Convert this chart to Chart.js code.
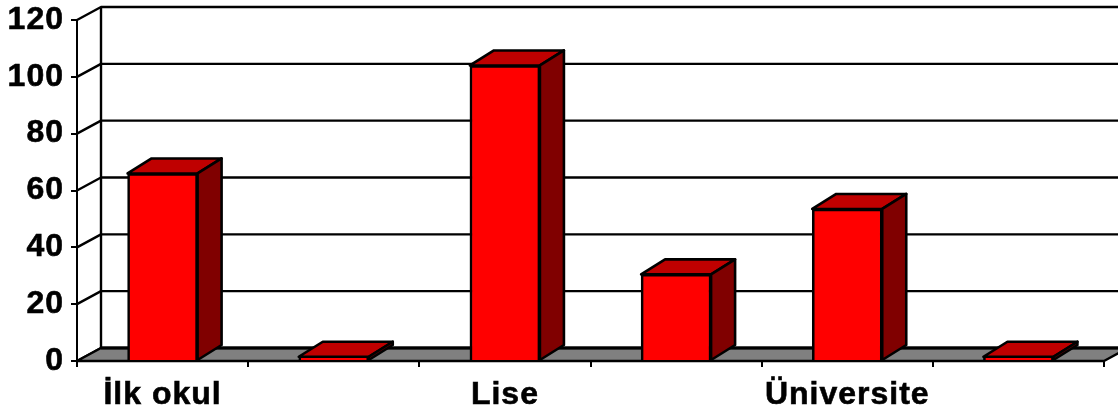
<!DOCTYPE html>
<html>
<head>
<meta charset="utf-8">
<style>
 body { margin: 0; background: #fff; }
 canvas { display: block; }
</style>
<script src="https://cdn.jsdelivr.net/npm/chart.js@4/dist/chart.umd.min.js"></script>
</head>
<body>
<canvas id="myChart" width="1118" height="410"></canvas>
<script>
var categories = ['İlk okul', '', 'Lise', '', 'Üniversite', ''];
var values = [66, 1.5, 104, 30.5, 53.5, 1.5];
var yTicks = [0, 20, 40, 60, 80, 100, 120];

// depth of the fake 3D box
var wallDx = 24, wallDy = -13;
var barDx = 24, barDy = -15;

function poly(ctx, pts, fill) {
  ctx.beginPath();
  ctx.moveTo(pts[0][0], pts[0][1]);
  for (var i = 1; i < pts.length; i++) {
    ctx.lineTo(pts[i][0], pts[i][1]);
  }
  ctx.closePath();
  ctx.fillStyle = fill;
  ctx.fill();
  ctx.stroke();
}

var box3d = {
  id: 'box3d',
  beforeDraw: function (chart) {
    // tick labels in the picture are wider than the plain font
    chart.ctx.letterSpacing = '1px';
  },
  beforeDatasetsDraw: function (chart) {
    var ctx = chart.ctx;
    var area = chart.chartArea;
    var y = chart.scales.y;
    ctx.save();
    ctx.strokeStyle = '#000';
    ctx.lineWidth = 2.4;
    ctx.lineJoin = 'round';

    // back wall: grid lines and the diagonals going to the front axis
    yTicks.forEach(function (t) {
      var py = y.getPixelForValue(t);
      ctx.beginPath();
      ctx.moveTo(area.left, py);
      ctx.lineTo(area.left + wallDx, py + wallDy);
      ctx.lineTo(area.right + wallDx, py + wallDy);
      ctx.stroke();
    });
    ctx.beginPath();
    ctx.moveTo(area.left + wallDx, area.top + wallDy);
    ctx.lineTo(area.left + wallDx, area.bottom + wallDy);
    ctx.stroke();

    // floor
    poly(ctx, [
      [area.left, area.bottom],
      [area.left + wallDx, area.bottom + wallDy],
      [area.right + wallDx, area.bottom + wallDy],
      [area.right, area.bottom]
    ], '#808080');
    ctx.lineWidth = 3;
    ctx.beginPath();
    ctx.moveTo(area.left + wallDx, area.bottom + wallDy);
    ctx.lineTo(area.right + wallDx, area.bottom + wallDy);
    ctx.stroke();

    // top and side of every bar
    ctx.lineWidth = 2.6;
    chart.getDatasetMeta(0).data.forEach(function (bar) {
      var l = bar.x - bar.width / 2, r = bar.x + bar.width / 2;
      poly(ctx, [[l, bar.y], [l + barDx, bar.y + barDy], [r + barDx, bar.y + barDy], [r, bar.y]], '#bf0000');
      poly(ctx, [[r, bar.y], [r + barDx, bar.y + barDy], [r + barDx, bar.base + barDy], [r, bar.base]], '#800000');
    });
    ctx.restore();
  }
};

var tickFont = { family: '"Liberation Sans"', size: 32, weight: 'bold' };

new Chart(document.getElementById('myChart').getContext('2d'), {
  type: 'bar',
  data: {
    labels: categories,
    datasets: [{
      data: values,
      backgroundColor: '#ff0000',
      borderColor: '#000',
      borderWidth: 2.6,
      barThickness: 70
    }]
  },
  plugins: [box3d],
  options: {
    responsive: false,
    animation: false,
    layout: { padding: { top: 20, right: 14 } },
    plugins: { legend: { display: false }, tooltip: { enabled: false } },
    scales: {
      x: {
        afterFit: function (scale) { scale.height = 49; },
        grid: { drawOnChartArea: false, color: '#000', lineWidth: 2, tickLength: 6 },
        border: { color: '#000', width: 2 },
        ticks: {
          color: '#000',
          autoSkip: false,
          maxRotation: 0,
          padding: 9,
          textStrokeColor: '#000',
          textStrokeWidth: 0.6,
          font: tickFont
        }
      },
      y: {
        min: 0,
        max: 120,
        afterFit: function (scale) {
          scale.width = 77;
          scale.paddingTop = 0;
          scale.paddingBottom = 0;
        },
        grid: { drawOnChartArea: false, color: '#000', lineWidth: 2, tickLength: 6 },
        border: { color: '#000', width: 2 },
        ticks: {
          color: '#000',
          stepSize: 20,
          padding: 7,
          textStrokeColor: '#000',
          textStrokeWidth: 0.6,
          font: tickFont
        }
      }
    }
  }
});
</script>
</body>
</html>
